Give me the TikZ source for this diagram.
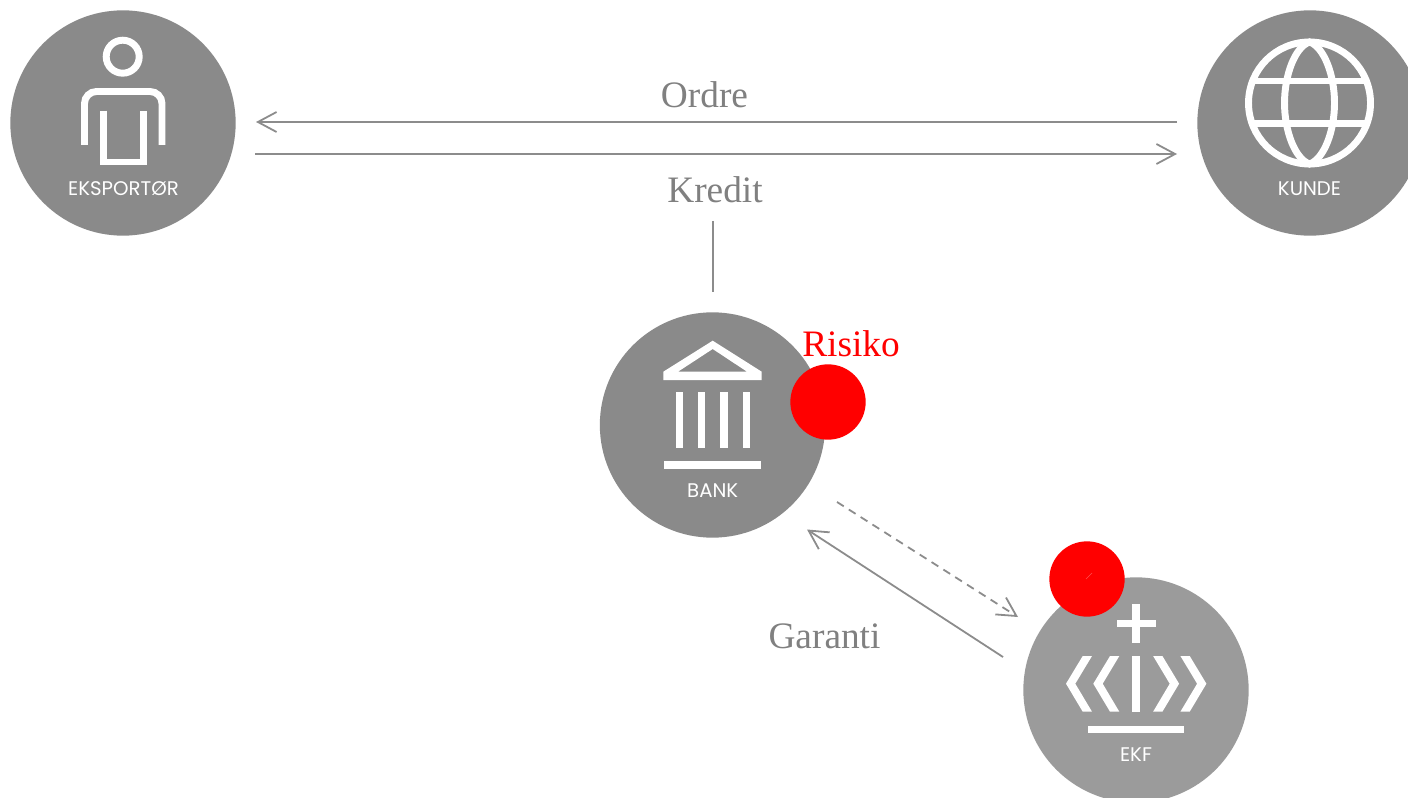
\documentclass[tikz,border=0pt]{standalone}
\usepackage{fontspec}
\setmainfont{Liberation Serif}
\newfontfamily\iconfont{Poppins}
\usetikzlibrary{arrows.meta}
\definecolor{discgray}{HTML}{8A8A8A}
\definecolor{disclight}{HTML}{9B9B9B}
\definecolor{linegray}{HTML}{8C8C8C}
\definecolor{labelgray}{HTML}{808080}
\definecolor{riskred}{HTML}{FF0000}
\definecolor{faintred}{HTML}{FF5050}
\tikzset{
  disc/.style={circle,fill=discgray,minimum size=169pt,inner sep=0pt,outer sep=0pt},
  riskdot/.style={circle,fill=riskred,minimum size=56.5pt,inner sep=0pt,outer sep=0pt},
  glyph/.style={draw=white,line width=5.2pt},
  glyphfill/.style={fill=white},
  iconlabel/.style={text=white,font=\iconfont\fontsize{14.8}{16}\selectfont,inner sep=0pt},
  flowlabel/.style={text=labelgray,font=\fontsize{28}{32}\selectfont,inner sep=0pt},
  risklabel/.style={text=riskred,font=\fontsize{28}{32}\selectfont,inner sep=0pt},
  flow/.style={draw=linegray,line width=1.35pt},
  tip/.style={-{Straight Barb[length=14pt,width=15pt,line width=1.35pt]}}
}
\begin{document}
\begin{tikzpicture}[x=0.75pt,y=-0.75pt]
\useasboundingbox (0,0) rectangle (1408,798);
\clip (0,0) rectangle (1408,798);

% discs
\node[disc] (eks) at (123,123) {};
\node[disc] (kunde) at (1310,123) {};
\node[disc] (bank) at (712.5,425) {};
\node[disc,fill=disclight] (ekf) at (1136,690) {};

% person
\draw[glyph] (122.7,56.7) circle (16.5);
\draw[glyph,rounded corners=9pt] (84.5,145) -- (84.5,91.5) -- (162,91.5) -- (162,145);
\draw[glyph] (103.5,110.7) -- (103.5,162) -- (143.5,162) -- (143.5,110.7);
\node[iconlabel] (eksl) at (123.5,189) {EKSPORTØR};

% globe
\begin{scope}
\clip (1309.5,103) circle (61);
\draw[glyph] (1240,81) -- (1380,81);
\draw[glyph] (1240,123.5) -- (1380,123.5);
\end{scope}
\draw[glyph] (1309.5,103) circle (61);
\draw[glyph] (1309.5,42) .. controls (1295,47) and (1284.5,75) .. (1284.5,103)
  .. controls (1284.5,131) and (1295,159) .. (1309.5,164)
  .. controls (1324,159) and (1334.5,131) .. (1334.5,103)
  .. controls (1334.5,75) and (1324,47) .. cycle;
\node[iconlabel] (kundel) at (1309.5,189) {KUNDE};

% bank
\fill[glyphfill,even odd rule] (712.7,340.7) -- (761.7,371.7) -- (761.7,380) -- (663.3,380) -- (663.3,371.7) -- cycle
  (712.7,349) -- (747,371.7) -- (678,371.7) -- cycle;
\fill[glyphfill] (675.7,391.7) rectangle (683,448.3);
\fill[glyphfill] (698,391.7) rectangle (705.3,448.3);
\fill[glyphfill] (720.3,391.7) rectangle (727.7,448.3);
\fill[glyphfill] (742.7,391.7) rectangle (750,448.3);
\fill[glyphfill] (664.3,461.3) rectangle (761,469);
\node[iconlabel] (bankl) at (712.7,491) {BANK};

% crown
\fill[glyphfill] (1132.3,604) rectangle (1140,643.3);
\fill[glyphfill] (1116.7,620) rectangle (1156,627.3);
\fill[glyphfill] (1132.3,656) rectangle (1140,711.7);
\fill[glyphfill] (1082.7,656) -- (1092,656) -- (1075.3,683.7) -- (1092,711.7) -- (1082.7,711.7) -- (1066,683.7) -- cycle;
\fill[glyphfill] (1110,656) -- (1119.3,656) -- (1102.7,683.7) -- (1119.3,711.7) -- (1110,711.7) -- (1093.3,683.7) -- cycle;
\fill[glyphfill] (1189.7,656) -- (1180.4,656) -- (1197.1,683.7) -- (1180.4,711.7) -- (1189.7,711.7) -- (1206.4,683.7) -- cycle;
\fill[glyphfill] (1162.4,656) -- (1153.1,656) -- (1169.7,683.7) -- (1153.1,711.7) -- (1162.4,711.7) -- (1179.1,683.7) -- cycle;
\fill[glyphfill] (1087.7,725.7) rectangle (1184.3,733.3);
\node[iconlabel] (ekfl) at (1136,755) {EKF};

% risk dots
\node[riskdot] (riskbank) at (828,402) {};
\node[riskdot] (riskekf) at (1087,579) {};
\node[risklabel] (risiko) at (851,344) {Risiko};

% labels
\node[flowlabel] (ordre) at (704.5,94.5) {Ordre};
\node[flowlabel] (kredit) at (715,190) {Kredit};
\node[flowlabel] (garanti) at (824.5,636) {Garanti};

% connector ends
\coordinate (ordreA) at (1177,122);
\coordinate (ordreB) at (256,122);
\coordinate (kredA) at (255,154);
\coordinate (kredB) at (1177,154);
\coordinate (stemA) at (713,221);
\coordinate (stemB) at (713,292);
\coordinate (dashA) at (837,502);
\coordinate (dashB) at (1018,617);
\coordinate (garA) at (1003,657);
\coordinate (garB) at (807,529.5);
\coordinate (tickA) at (1086,579);
\coordinate (tickB) at (1092,573);

\draw[flow,tip] (ordreA) -- (ordreB);
\draw[flow,tip] (kredA) -- (kredB);
\draw[flow] (stemA) -- (stemB);
\draw[flow,tip,dash pattern=on 6pt off 4.5pt] (dashA) -- (dashB);
\draw[flow,tip] (garA) -- (garB);
\draw[faintred,line width=0.5pt] (tickA) -- (tickB);
\end{tikzpicture}
\end{document}
